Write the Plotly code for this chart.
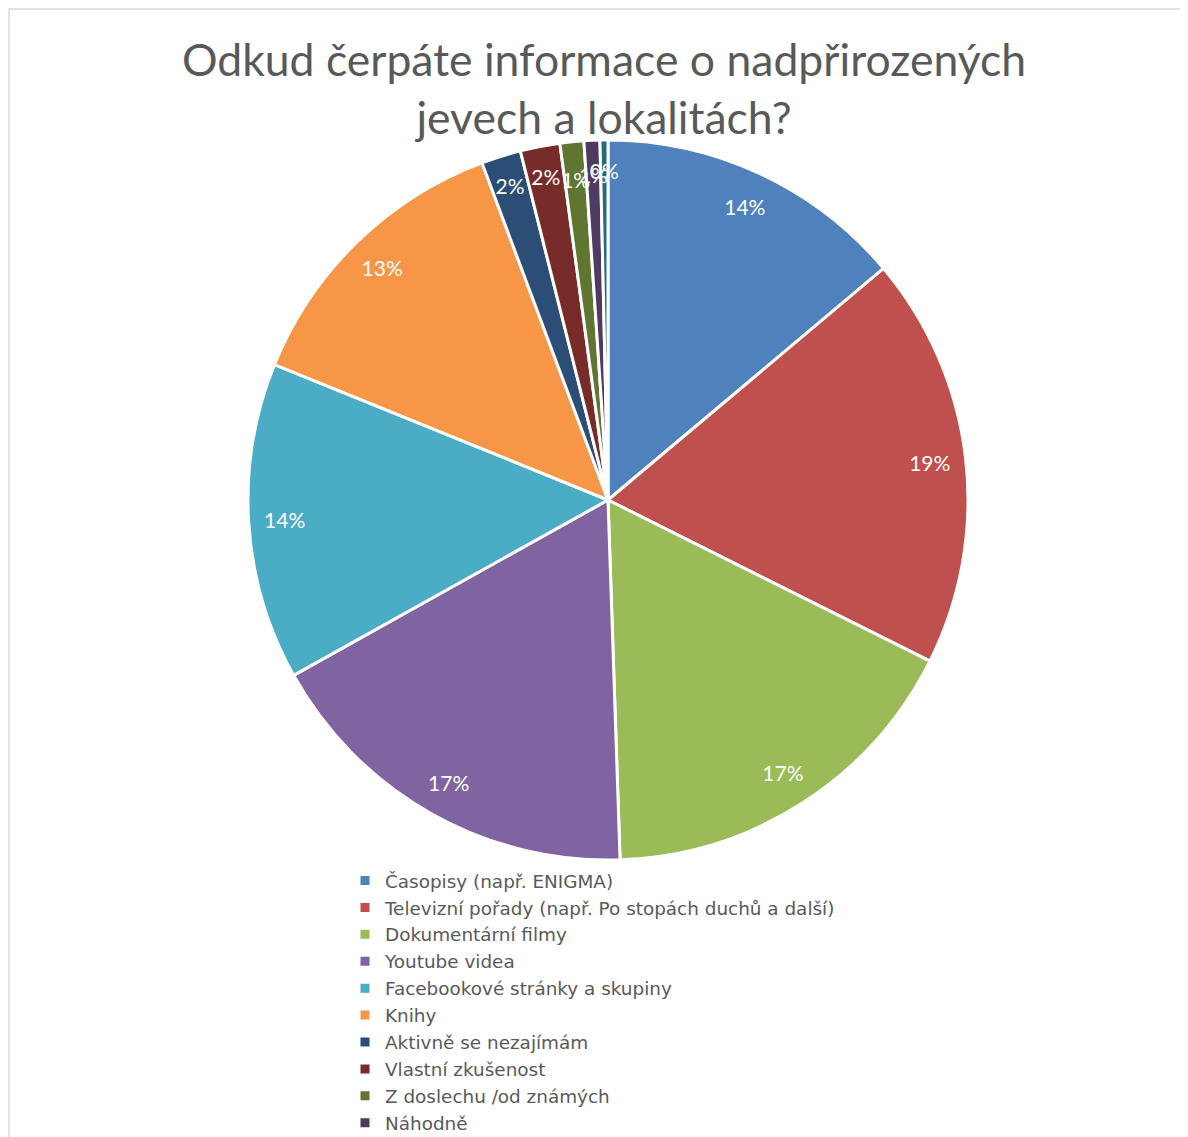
import plotly.graph_objects as go

labels = [
    "Časopisy (např. ENIGMA)",
    "Televizní pořady (např. Po stopách duchů a další)",
    "Dokumentární filmy",
    "Youtube videa",
    "Facebookové stránky a skupiny",
    "Knihy",
    "Aktivně se nezajímám",
    "Vlastní zkušenost",
    "Z doslechu /od známých",
    "Náhodně",
    "Jiné",
]
values = [39, 52, 48, 49, 40, 37, 5, 5, 3, 2, 1]
colors = ["#4F81BD", "#C0504D", "#9BBB59", "#8064A2", "#4BACC6", "#F79646",
          "#2C4D75", "#772C2A", "#5F7530", "#4D3B62", "#276A7C"]
title_text = "Odkud čerpáte informace o nadpřirozených<br>jevech a lokalitách?"

# page body has an 8px margin, so the figure is drawn 8px in from the corner
W, H = 1180, 1129
FONT = "Lato"
CX, CY, R = 600, 492, 360


def dom(r):
    return dict(x=[(CX - r) / W, (CX + r) / W], y=[1 - (CY + r) / H, 1 - (CY - r) / H])


fig = go.Figure()
fig.add_trace(go.Pie(
    labels=labels, values=values, sort=False, direction="clockwise", rotation=0,
    marker=dict(colors=colors, line=dict(color="white", width=3)),
    textinfo="none", domain=dom(R), hoverinfo="label+percent",
))

# label rings (transparent) – the percentage labels sit near the outer edge
label_groups = [
    (R, 0.8, range(0, 6)),
    (348, 0.8, range(6, 8)),
    (333, 0.8, range(8, 11)),
]
for r, hole, idx in label_groups:
    tmpl = ["%{percent:.0%}" if i in idx else "" for i in range(len(values))]
    fig.add_trace(go.Pie(
        labels=labels, values=values, sort=False, direction="clockwise", rotation=0,
        hole=hole, showlegend=False,
        marker=dict(colors=["rgba(0,0,0,0)"] * len(values), line=dict(width=0)),
        texttemplate=tmpl, textposition="inside",
        insidetextorientation="horizontal",
        textfont=dict(family=FONT, size=21, color="white"),
        domain=dom(r), hoverinfo="skip",
    ))

fig.update_layout(
    width=W, height=H,
    margin=dict(l=0, r=0, t=0, b=0, autoexpand=False),
    paper_bgcolor="white", plot_bgcolor="white",
    uniformtext=dict(minsize=21, mode="show"),
    title=dict(text=title_text, x=596 / W, xanchor="center",
               y=1 - 68 / H, yanchor="top", yref="container",
               font=dict(family=FONT, size=44.5, color="#595959")),
    legend=dict(x=337 / W, xanchor="left", y=1 - 854 / H, yanchor="top",
                font=dict(family="DejaVu Sans", size=18.4, color="#595959"),
                bgcolor="rgba(0,0,0,0)", traceorder="normal"),
    shapes=[dict(type="rect", xref="paper", yref="paper",
                 x0=1 / W, x1=1.05, y0=-0.05, y1=1 - 1 / H,
                 line=dict(color="#D9D9D9", width=1.5), fillcolor="rgba(0,0,0,0)")],
)

fig.write_html("out.html")
